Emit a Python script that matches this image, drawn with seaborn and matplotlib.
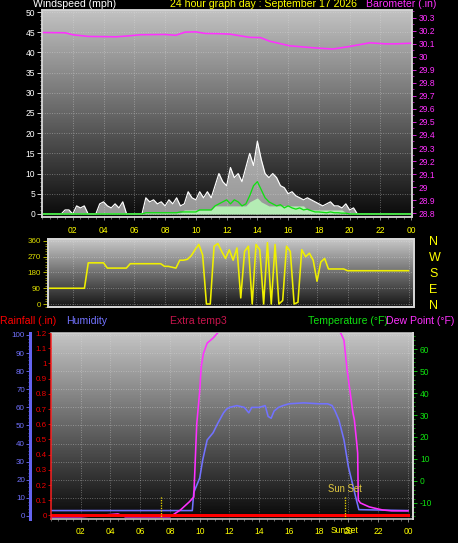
# -*- coding: utf-8 -*-
"""
Grafica de 24 horas de la estacion: viento, barometro, direccion,
lluvia, humedad y punto de rocio.
"""

import numpy as np
import matplotlib
matplotlib.use("Agg")
import matplotlib.pyplot as plt
from matplotlib.colors import LinearSegmentedColormap
from matplotlib.ticker import MultipleLocator, FuncFormatter
import seaborn as sns

#%%
# Datos (cada 15 min para el viento y la direccion)
horas_15 = np.arange(97) / 4

rafaga = [0, 0, 0, 0, 0, 0, 1, 1, 0, 2, 1.5, 2, 0, 0, 0, 2.5, 3, 2, 1.5, 2.5,
          1.5, 3, 0, 0, 0, 0, 0, 4, 3, 3.5, 2.5, 3, 2, 3.5, 2.5, 4, 2, 2.5, 5.5, 4,
          3.5, 5.5, 4, 5.5, 4, 7, 10, 8, 7, 11.5, 9, 10, 8, 11.5, 15, 12, 18, 13.5, 10, 9,
          10, 9, 7, 6.5, 5, 5.5, 4.5, 4, 3.5, 4, 3.5, 3, 2.5, 2, 2.5, 3, 2, 2, 1.5, 2.5,
          1, 1.5, 0, 0, 0, 0, 0, 0, 0, 0, 0, 0, 0, 0, 0, 0, 0]

promedio = ([0] * 27 + [0.3] * 9 + [0.5] * 5 + [1] * 4 +
            [2, 2.5, 3, 3.5, 2.5, 3.5, 3, 2, 2.5, 4.5, 7, 8, 6, 4, 3, 2.5, 2, 2.3,
             1.5, 2, 1.5, 1.2, 1.5, 1, 1.2, 0.8, 0.5, 0.5, 0.4, 0.3, 0.5, 0.3, 0.3,
             0.2, 0.2] + [0] * 17)

calma = ([0.3] * 37 + [1] * 8 + [2] * 9 + [3, 3.5, 4, 3, 2.5] + [2] * 10 +
         [1] * 10 + [0.3] * 18)

horas_baro = [0, 1.5, 2, 3, 4.8, 5.5, 6.4, 8, 8.7, 9.3, 10, 10.6, 11.5, 12.2,
              13.5, 14.2, 14.8, 16.1, 17.6, 18.9, 20, 21.3, 22.3, 23, 24]
barometro = [30.187, 30.185, 30.17, 30.157, 30.154, 30.16, 30.17, 30.172, 30.166,
             30.19, 30.192, 30.18, 30.178, 30.175, 30.15, 30.148, 30.12, 30.085,
             30.07, 30.06, 30.08, 30.108, 30.1, 30.1, 30.105]

direccion = ([90] * 12 + [235] * 5 + [205] * 6 + [230] * 9 + [215, 215, 210, 205] +
             [250, 250, 255, 275, 310, 340, 280, 0, 0, 330, 345, 300, 260, 310, 250,
              320, 35, 300, 330, 0, 340, 310, 0, 350, 0, 340, 0, 20, 330, 300, 0, 10,
              310, 270, 290, 250, 130, 240, 260, 200] + [200] * 4 + [190] * 17)

horas_hum = [0, 9.5, 9.6, 10.0, 10.2, 10.5, 10.9, 11.2, 11.6, 11.8, 12.0, 12.5, 13.0,
             13.3, 13.5, 14.0, 14.4, 14.6, 14.8, 15.0, 15.3, 15.6, 16.0, 17.0, 18.0,
             18.6, 18.9, 19.1, 19.36, 19.7, 20.0, 20.5, 20.7, 24]
humedad = [3, 3, 13, 21, 31, 42, 46, 51, 57, 59, 60, 61, 60, 57, 60, 60, 61, 55, 54,
           58, 60, 61, 62, 62.5, 62, 62, 61, 58, 53, 42, 27, 10, 3.5, 3]

horas_rocio = [0, 2, 4.5, 5, 8.0, 8.7, 9.3, 9.6, 9.8, 10.0, 10.1, 10.25, 10.5, 10.9,
               11.2, 11.6, 12, 15, 18, 19.2, 19.5, 19.7, 19.9, 20.3, 20.4, 20.55,
               20.62, 20.66, 20.8, 21.4, 22.3, 22.9, 24]
rocio = [-16.3, -16.3, -15, -16.3, -16.3, -13.2, -9.5, -7.3, 26, 41, 52, 58, 62.7,
         65, 67.3, 70, 74, 76, 74, 70, 67, 64, 51, 31, 27.7, 17.7, 12.7, -8.6, -10,
         -11.8, -13.2, -13.6, -13.6]

horas_lluvia = [0, 24]
lluvia = [0, 0]

horas_sol = [7.4, 19.77]   # amanecer, atardecer

etiquetas_hora = ['02', '04', '06', '08', '10', '12', '14', '16', '18', '20', '22', '00']

#%%
plt.rcParams['font.family'] = ['Liberation Sans', 'DejaVu Sans']
plt.rcParams['axes.unicode_minus'] = False

W, H = 458, 543
fig = plt.figure(figsize=(W / 72, H / 72), dpi=72, facecolor='black')

AMARILLO = '#ffff00'
MAGENTA = '#ff30ff'
AZUL = '#7272ff'
ROJO = '#ff0000'
VERDE = '#10e010'
MARCO = '#d4d4d4'
TAM = 8.5


def caja(x0, y0, x1, y1):
    return [x0 / W, 1 - y1 / H, (x1 - x0) / W, (y1 - y0) / H]


def fondo(ax, arriba, abajo):
    cmap = LinearSegmentedColormap.from_list('fondo', [abajo, arriba])
    ax.imshow(np.linspace(1, 0, 200).reshape(-1, 1), cmap=cmap, vmin=0, vmax=1,
              aspect='auto', extent=(0, 1, 0, 1), transform=ax.transAxes, zorder=0)


def rejilla(ax):
    ax.grid(True, which='major', color='#e0e0e0', linestyle=(0, (1, 2)),
            linewidth=0.8, alpha=0.55)


def marco(ax, lw=1.5):
    for s in ax.spines.values():
        s.set_color(MARCO)
        s.set_linewidth(lw)


def eje_x(ax, mostrar=True, pad=5):
    ax.set_xticks(range(2, 25, 2))
    ax.set_xticklabels(etiquetas_hora)
    ax.xaxis.set_minor_locator(MultipleLocator(0.5))
    ax.tick_params(axis='x', which='both', color='#a8a8a8', labelcolor=AMARILLO,
                   labelsize=TAM, length=3, pad=pad, labelbottom=mostrar)
    ax.tick_params(axis='x', which='minor', length=2)


fmt = FuncFormatter(lambda v, p: f'{round(v, 1):g}')

#%%
# Panel 1: velocidad del viento y barometro
ax1 = fig.add_axes(caja(42, 10, 412, 217))
fondo(ax1, '#c2c2c2', '#0a0a0a')
ax1.fill_between(horas_15, rafaga, color='#f4f4f4', alpha=0.6, lw=0, zorder=1)
sns.lineplot(x=horas_15, y=rafaga, color='white', lw=1.2, ax=ax1, zorder=2)
ax1.fill_between(horas_15, calma, color='#b4ecb4', lw=0, zorder=3)
sns.lineplot(x=horas_15, y=promedio, color=VERDE, lw=1.3, ax=ax1, zorder=4)
ax1.set_xlim(0, 24.05)
ax1.set_ylim(-0.75, 50.5)
ax1.set_yticks(range(0, 51, 5))
ax1.yaxis.set_minor_locator(MultipleLocator(1))
ax1.tick_params(axis='y', which='both', colors='white', labelsize=TAM, length=5, pad=2)
ax1.tick_params(axis='y', which='minor', length=2.5)
eje_x(ax1, pad=6)
rejilla(ax1)
marco(ax1)
ax1.set_xlabel('')
ax1.set_ylabel('')

ax1b = ax1.twinx()
sns.lineplot(x=horas_baro, y=barometro, color=MAGENTA, lw=1.6, ax=ax1b)
ax1b.set_ylim(28.77, 30.36)
ax1b.set_yticks(np.round(np.arange(28.8, 30.31, 0.1), 1))
ax1b.yaxis.set_major_formatter(fmt)
ax1b.yaxis.set_minor_locator(MultipleLocator(0.05))
ax1b.tick_params(axis='y', which='both', colors=MAGENTA, labelsize=TAM, length=4, pad=3)
ax1b.tick_params(axis='y', which='minor', length=2)
marco(ax1b)
ax1b.set_ylabel('')

#%%
# Panel 2: direccion del viento
ax2 = fig.add_axes(caja(48, 239, 414, 307))
fondo(ax2, '#c8c8c8', '#161616')
sns.lineplot(x=horas_15, y=direccion, color='#f0f000', lw=1.6, ax=ax2, zorder=2)
ax2.set_xlim(0.36, 24.36)
ax2.set_ylim(-17, 371)
ax2.set_xticks(range(2, 25, 2))
ax2.tick_params(axis='x', labelbottom=False, length=0)
ax2.set_yticks([0, 90, 180, 270, 360])
ax2.yaxis.set_minor_locator(MultipleLocator(15))
ax2.tick_params(axis='y', which='both', colors='#dcdc00', labelsize=8, length=5, pad=2)
ax2.tick_params(axis='y', which='minor', length=3)
rejilla(ax2)
marco(ax2, 2)
ax2.set_ylabel('')

ax2r = ax2.twinx()
ax2r.set_ylim(-17, 371)
ax2r.set_yticks([0, 90, 180, 270, 360])
ax2r.set_yticklabels(['N', 'E', 'S', 'W', 'N'])
ax2r.tick_params(axis='y', length=0, labelcolor=AMARILLO, labelsize=12.5, pad=15)
marco(ax2r, 2)

#%%
# Panel 3: humedad, punto de rocio y lluvia
ax3 = fig.add_axes(caja(51, 333, 413, 519))
fondo(ax3, '#c4c4c4', '#080808')
sns.lineplot(x=horas_hum, y=humedad, color=AZUL, lw=1.6, ax=ax3, zorder=2)
ax3.set_xlim(0, 24.34)
ax3.set_ylim(-1.66, 101.1)
ax3.set_yticks(range(0, 101, 10))
ax3.yaxis.set_minor_locator(MultipleLocator(2))
ax3.tick_params(axis='y', which='both', colors=AZUL, labelsize=8, length=4, pad=1)
ax3.tick_params(axis='y', which='minor', length=2)
eje_x(ax3, pad=5)
rejilla(ax3)
marco(ax3)
ax3.spines['left'].set_position(('outward', 21))
ax3.spines['left'].set_color('#6464f0')
ax3.spines['left'].set_linewidth(3)
ax3.set_ylabel('')

ax3t = ax3.twinx()
sns.lineplot(x=horas_rocio, y=rocio, color=MAGENTA, lw=1.6, ax=ax3t)
ax3t.set_ylim(-17.3, 67.3)
ax3t.set_yticks(range(-10, 61, 10))
ax3t.yaxis.set_minor_locator(MultipleLocator(2))
ax3t.tick_params(axis='y', which='both', colors=VERDE, labelsize=TAM, length=4, pad=3)
ax3t.tick_params(axis='y', which='minor', length=2)
for s in ['top', 'bottom', 'left']:
    ax3t.spines[s].set_visible(False)
ax3t.spines['right'].set_color(MARCO)
ax3t.spines['right'].set_linewidth(2)
ax3t.set_ylabel('')

ax3r = ax3.twinx()
ax3r.yaxis.tick_left()
sns.lineplot(x=horas_lluvia, y=lluvia, color=ROJO, lw=3, ax=ax3r)
ax3r.set_ylim(-0.0236, 1.2)
ax3r.set_yticks(np.round(np.arange(0, 1.21, 0.1), 1))
ax3r.yaxis.set_major_formatter(fmt)
ax3r.tick_params(axis='y', colors='#ee0000', labelsize=8, length=3, pad=1)
for s in ['top', 'bottom', 'right']:
    ax3r.spines[s].set_visible(False)
ax3r.spines['left'].set_color('#ff2020')
ax3r.spines['left'].set_linestyle((0, (1, 1)))
ax3r.spines['left'].set_linewidth(1.5)
ax3r.set_ylabel('')

# amanecer y atardecer
ax3r.vlines(horas_sol, -0.0236, 0.125, colors='#e8d400', linestyles=(0, (1, 1)), lw=1.3)
ax3r.text(horas_sol[1], 0.14, 'Sun Set', color='#e0c840', fontsize=9.5,
          ha='center', va='bottom')
ax3.text(horas_sol[1], -0.06, 'SunSet', color=AMARILLO, fontsize=TAM, ha='center',
         va='center', transform=ax3.get_xaxis_transform())

#%%
# Titulos
def titulo(x, y, s, color, ha='left'):
    fig.text(x / W, 1 - y / H, s, color=color, fontsize=10.5, ha=ha, va='center')


titulo(33, 4, 'Windspeed (mph)', 'white')
titulo(170, 4, '24 hour graph day : September 17 2026', AMARILLO)
titulo(366, 4, 'Barometer (.in)', MAGENTA)
titulo(0, 321, 'Rainfall (.in)', ROJO)
titulo(66, 321, 'Humidity', AZUL)
titulo(170, 321, 'Extra temp3', '#c8144c')
titulo(308, 321, 'Temperature (°F)', VERDE)
titulo(386, 321, 'Dew Point (°F)', MAGENTA)

fig.savefig('out.png', dpi=72, facecolor='black')
